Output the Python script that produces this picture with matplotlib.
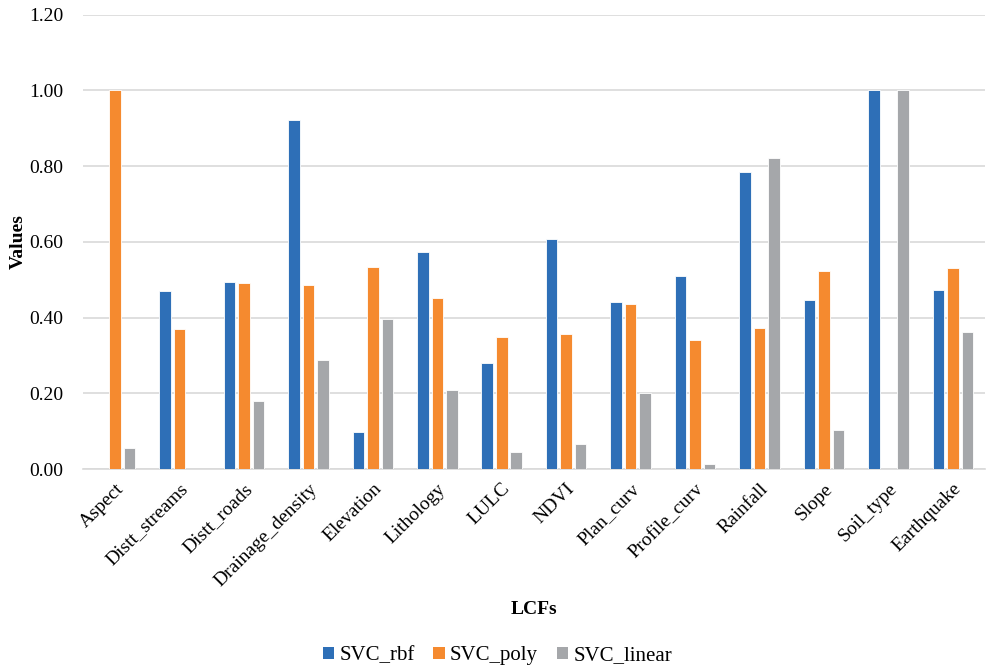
import numpy as np
import matplotlib
matplotlib.use('Agg')
import matplotlib.pyplot as plt
from matplotlib.patches import Patch

categories = ['Aspect', 'Distt_streams', 'Distt_roads', 'Drainage_density', 'Elevation',
              'Lithology', 'LULC', 'NDVI', 'Plan_curv', 'Profile_curv', 'Rainfall',
              'Slope', 'Soil_type', 'Earthquake']
svc_rbf = [0.0, 0.469, 0.494, 0.921, 0.099, 0.573, 0.281, 0.607, 0.440, 0.511, 0.784,
           0.446, 1.0, 0.474]
svc_poly = [1.0, 0.370, 0.491, 0.485, 0.533, 0.451, 0.348, 0.357, 0.435, 0.341, 0.372,
            0.522, 0.0, 0.531]
svc_linear = [0.055, 0.0, 0.180, 0.289, 0.395, 0.208, 0.046, 0.067, 0.201, 0.014, 0.821,
              0.103, 1.0, 0.363]
series_names = ['SVC_rbf', 'SVC_poly', 'SVC_linear']
colors = ['#2E6FB7', '#F58A2F', '#A5A7AA']

plt.rcParams['font.family'] = ['Liberation Serif', 'DejaVu Serif']

fig = plt.figure(figsize=(9.87, 6.70), dpi=100)
ax = fig.add_axes([0.084, 0.300, 0.914, 0.678])

x = np.arange(len(categories))
offset = 0.225
width = 0.18
for i, (vals, name, c) in enumerate(zip([svc_rbf, svc_poly, svc_linear], series_names, colors)):
    ax.bar(x + (i - 1) * offset, vals, width, color=c, edgecolor='white',
           linewidth=0.6, label=name, zorder=3)

ax.set_xlim(-0.5, len(categories) - 0.5)
ax.set_ylim(0, 1.2)
ax.set_yticks(np.arange(0, 1.21, 0.2))
ax.set_yticklabels([f'{v:.2f}' for v in np.arange(0, 1.21, 0.2)], fontsize=14)
ax.set_xticks(x)
ax.set_xticklabels(categories, rotation=45, ha='right', rotation_mode='anchor', fontsize=14)
ax.tick_params(axis='both', length=0, pad=8)
ax.tick_params(axis='y', pad=14)

ax.grid(axis='y', color='#D9D9D9', linewidth=1.2, zorder=0)
for side in ['top', 'right', 'left']:
    ax.spines[side].set_visible(False)
ax.spines['bottom'].set_color('#D9D9D9')
ax.spines['bottom'].set_linewidth(1.2)

ax.set_ylabel('Values', fontsize=14, fontweight='bold', labelpad=2)
fig.text(0.541, 0.09, 'LCFs', fontsize=14, fontweight='bold', ha='center', va='center')

handles = [Patch(facecolor=c, label=n) for c, n in zip(colors, series_names)]
fig.legend(handles=handles, loc='center', bbox_to_anchor=(0.504, 0.021), ncol=3,
           frameon=False, fontsize=15, handlelength=0.55, handleheight=0.55,
           handletextpad=0.25, columnspacing=0.9)

fig.savefig('out.png', dpi=100)
